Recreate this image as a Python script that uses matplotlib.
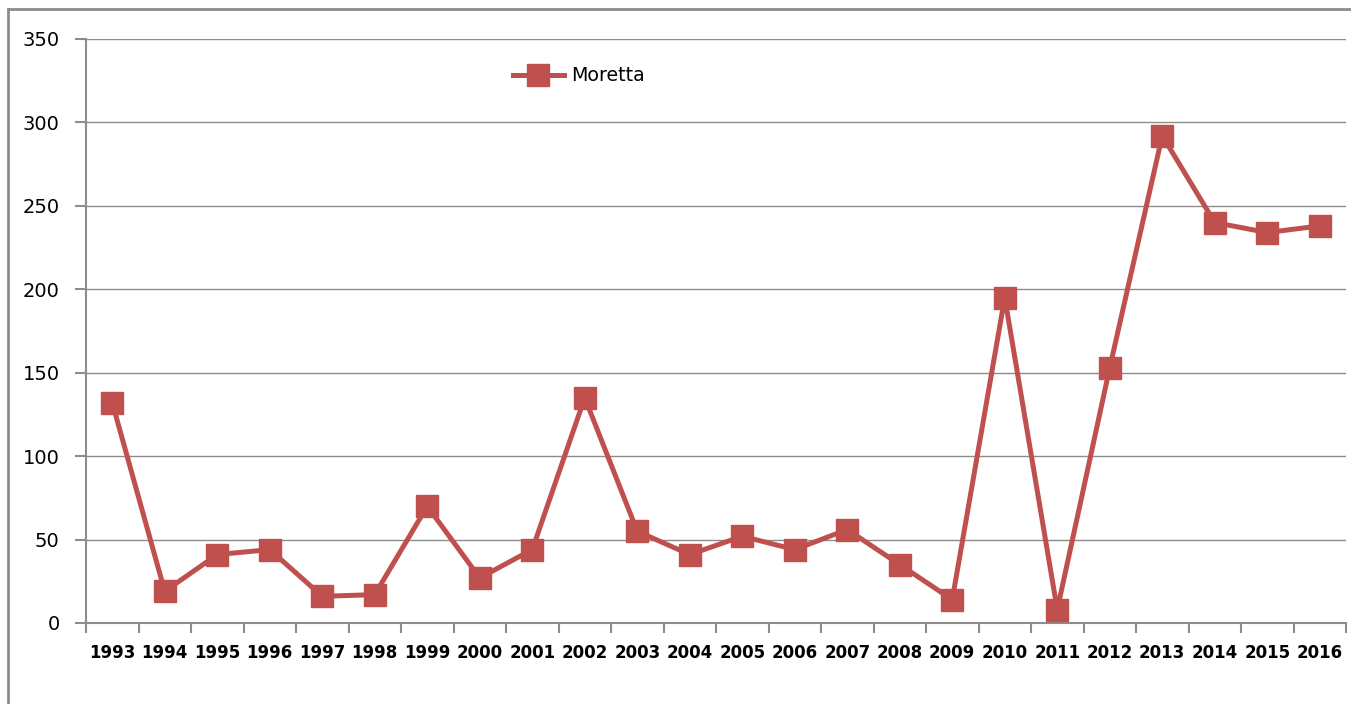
import matplotlib
matplotlib.use("Agg")
import matplotlib.pyplot as plt
from matplotlib.lines import Line2D
import numpy as np

years = [str(y) for y in range(1993, 2017)]
moretta = [132, 19, 41, 44, 16, 17, 70, 27, 44, 135, 55, 41, 52, 44, 56, 35,
           14, 195, 8, 153, 292, 240, 234, 238]
y_ticks = [0, 50, 100, 150, 200, 250, 300, 350]

W, H = 1351, 704
fig = plt.figure(figsize=(W / 100, H / 100), dpi=100)
plt.rcParams['font.family'] = ['DejaVu Sans']

# cornice grigia del grafico (solo sinistra e alto visibili)
fig.add_artist(Line2D([8 / W, 8 / W], [0, 1 - 9 / H], transform=fig.transFigure,
                      color='#8c8c8c', lw=2))
fig.add_artist(Line2D([8 / W, 1], [1 - 9 / H, 1 - 9 / H], transform=fig.transFigure,
                      color='#8c8c8c', lw=2))

left, right, top, bottom = 86, 1346, 39, 623
ax = fig.add_axes([left / W, 1 - bottom / H, (right - left) / W, (bottom - top) / H])

x = np.arange(len(years))
ax.plot(x, moretta, color='#C0504D', lw=3.6, marker='s', markersize=16,
        label='Moretta', zorder=3)

ax.set_xlim(-0.5, len(years) - 0.5)
ax.set_ylim(0, 350)
ax.set_yticks(y_ticks)
ax.set_yticklabels([str(v) for v in y_ticks], fontsize=14)
ax.yaxis.grid(True, color='#8c8c8c', lw=1)
ax.set_axisbelow(True)

ax.set_xticks(x)
ax.set_xticklabels(years, fontsize=12, fontweight='bold')
ax.set_xticks(np.arange(-0.5, len(years), 1), minor=True)
ax.tick_params(axis='x', which='major', length=0, pad=15)
ax.tick_params(axis='x', which='minor', length=7, width=1.5, color='#8c8c8c', direction='out')
ax.tick_params(axis='y', length=8, width=1.5, color='#8c8c8c', pad=11)

for s in ['top', 'right']:
    ax.spines[s].set_visible(False)
for s in ['left', 'bottom']:
    ax.spines[s].set_color('#8c8c8c')
    ax.spines[s].set_linewidth(1.5)

ax.legend(loc='center left', bbox_to_anchor=(0.325, 0.937), frameon=False,
          fontsize=13.7, handlelength=2.7, handletextpad=0.4)

fig.savefig('out.png', dpi=100)
